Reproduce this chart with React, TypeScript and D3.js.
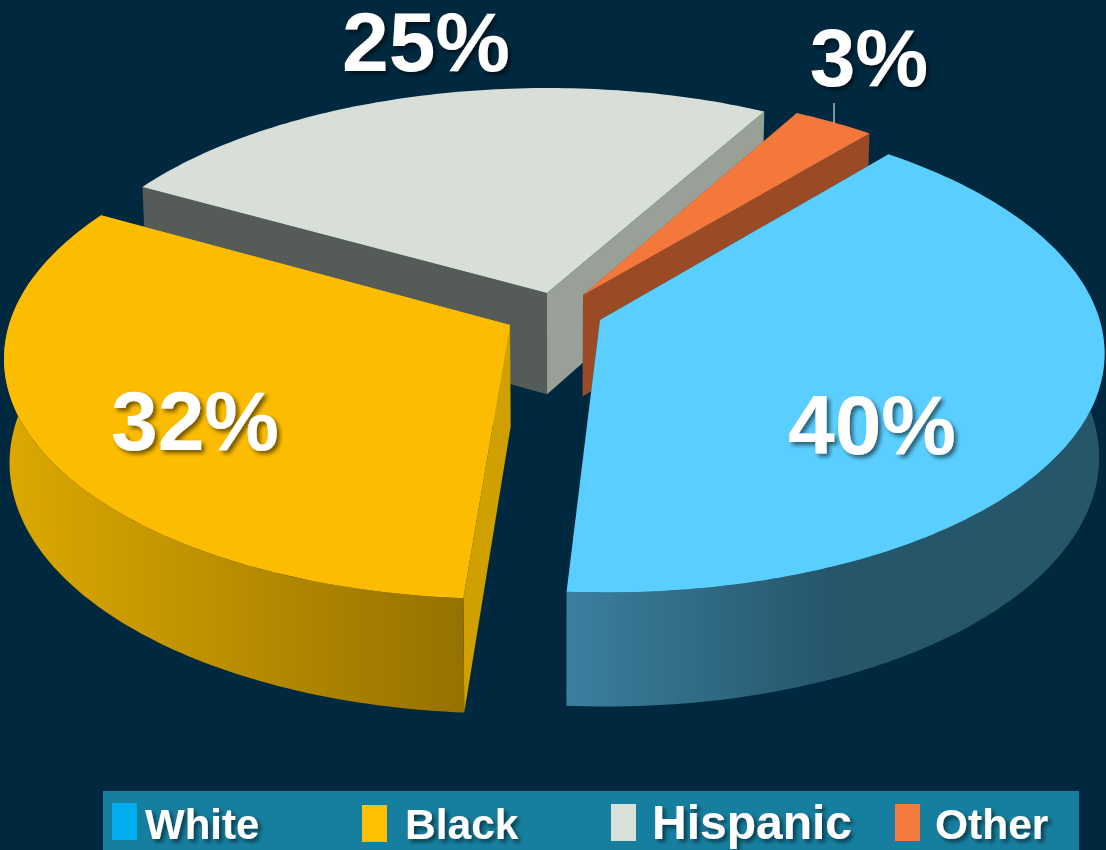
import React from 'react';
import * as d3 from 'd3';

const categories = ['White', 'Black', 'Hispanic', 'Other'];
const values = [40, 32, 25, 3];
const valueLabels = ['40%', '32%', '25%', '3%'];

const topColors = ['#5ACFFF', '#FCBC00', '#D8DFD8', '#F4783C'];
const swatchColors = ['#00AEEF', '#FFC000', '#D9E0D9', '#F47B40'];
const wallFrom = ['#3B7F9F', '#DCA800', '#8d938c', '#9B4A26'];
const wallTo = ['#26566A', '#957200', '#8d938c', '#9B4A26'];
const startFaceColors = ['#26566A', '#D0A000', '#555B56', '#9B4A26'];
const endFaceColors = ['#26566A', '#D0A000', '#98A098', '#9B4A26'];

// apex of each exploded slice on screen
const apexX = [600, 510, 547, 583];
const apexY = [320, 325, 293, 295];

const W = 1106, H = 850;
const CX = 555, CY = 310;
const R = 497, TILT = 0.473, PERSP = 0.127, DEPTH = 102, BOTTOM_SHRINK = 0.99;

const deg = Math.PI / 180;
const pie = d3.pie<number>().sort(null).startAngle(40 * deg).endAngle(400 * deg);
const arcs = pie(values);

// apex in pie-plane coordinates (inverse of the projection below)
function planeCenter(i: number): [number, number] {
  const w = (apexY[i] - CY) / (R * TILT);
  const s = 1 + PERSP * w;
  return [(apexX[i] - CX) / (R * s), w / s];
}

// one perspective projection shared by all slices
function project(i: number, a: number, r: number, drop = 0): [number, number] {
  const [u0, v0] = planeCenter(i);
  const u = u0 + Math.sin(a) * r;
  const v = v0 - Math.cos(a) * r;
  const s = 1 / (1 - PERSP * v);
  const x = CX + R * u * s;
  const y = CY + R * TILT * v * s;
  if (!drop) return [x, y];
  return [CX + (x - CX) * BOTTOM_SHRINK, y + drop * (1 + 0.78 * (s - 1))];
}

const line = d3.line();

function arcPoints(i: number, a0: number, a1: number, drop = 0) {
  const n = Math.max(4, Math.ceil((a1 - a0) / deg));
  return d3.range(n + 1).map((k) => project(i, a0 + ((a1 - a0) * k) / n, 1, drop));
}

function topPath(i: number) {
  const a = arcs[i];
  return line([project(i, 0, 0), ...arcPoints(i, a.startAngle, a.endAngle)]) + 'Z';
}
// only the near part of the rim shows a wall
function wallPath(i: number) {
  const a0 = Math.max(arcs[i].startAngle, 78 * deg);
  const a1 = Math.min(arcs[i].endAngle, 282 * deg);
  if (a1 <= a0) return '';
  return line([...arcPoints(i, a0, a1), ...arcPoints(i, a0, a1, DEPTH).reverse()]) + 'Z';
}
function facePath(i: number, angle: number) {
  return line([project(i, 0, 0), project(i, angle, 1), project(i, angle, 1, DEPTH), project(i, 0, 0, DEPTH)]) + 'Z';
}

const drawOrder = [2, 3, 1, 0];

const labelX = [872, 195, 426, 869];
const labelY = [454, 450, 71, 86];
const labelSize = [84, 84, 84, 82];

const legendX = [112, 362, 611, 895];
const legendY = [803, 805, 804, 804];
const legendTextX = [145, 405, 652, 935];
const legendFont = [42, 42.5, 48, 42.5];

export default function App() {
  return (
    <svg width={W} height={H} style={{ position: 'absolute', left: 0, top: 0 }} fontFamily="'Liberation Sans', Arial, sans-serif">
      <defs>
        {categories.map((c, i) => (
          <linearGradient key={c} id={`wall${i}`} gradientUnits="userSpaceOnUse" x1={i === 0 ? 567 : 10} y1={0} x2={i === 0 ? 830 : 465} y2={0}>
            <stop offset="0" stopColor={wallFrom[i]} />
            <stop offset="1" stopColor={wallTo[i]} />
          </linearGradient>
        ))}
        <filter id="shadow" x="-20%" y="-20%" width="140%" height="140%">
          <feDropShadow dx="3" dy="3" stdDeviation="2" floodColor="#000" floodOpacity="0.55" />
        </filter>
      </defs>
      <rect width={W} height={H} fill="#00293F" />
      {drawOrder.map((i) => (
        <g key={categories[i]}>
          <path d={facePath(i, arcs[i].startAngle)} fill={startFaceColors[i]} />
          <path d={facePath(i, arcs[i].endAngle)} fill={endFaceColors[i]} />
          <path d={wallPath(i)} fill={`url(#wall${i})`} />
          <path d={topPath(i)} fill={topColors[i]} />
        </g>
      ))}
      <line x1={834} x2={834} y1={103} y2={123} stroke="#fff" strokeWidth={1} />
      {valueLabels.map((t, i) => (
        <text key={t} x={labelX[i]} y={labelY[i]} textAnchor="middle" fontSize={labelSize[i]} fontWeight="bold" fill="#fff" filter="url(#shadow)">{t}</text>
      ))}
      <rect x={103} y={791} width={976} height={59} fill="#167FA0" />
      {categories.map((c, i) => (
        <g key={c}>
          <rect x={legendX[i]} y={legendY[i]} width={25} height={37} fill={swatchColors[i]} />
          <text x={legendTextX[i]} y={839} fontSize={legendFont[i]} fontWeight="bold" fill="#fff" filter="url(#shadow)">{c}</text>
        </g>
      ))}
    </svg>
  );
}
